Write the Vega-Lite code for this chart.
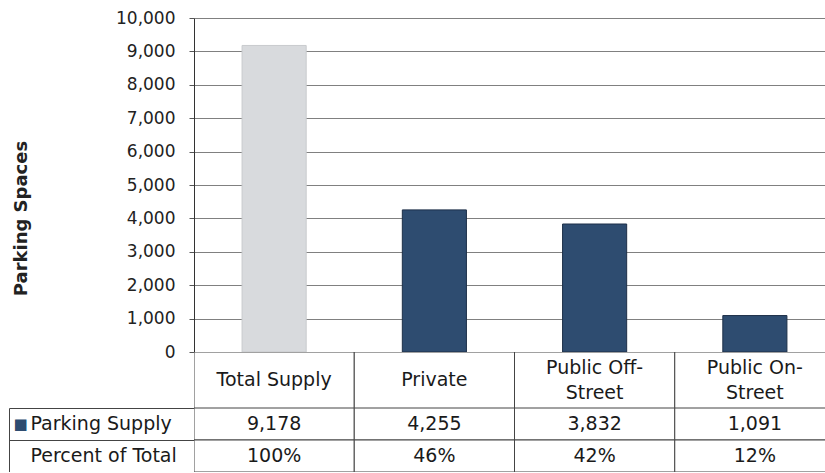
{
  "$schema": "https://vega.github.io/schema/vega-lite/v6.json",
  "padding": {"left": 8, "top": 9, "right": 0, "bottom": 0},
  "autosize": {"type": "pad"},
  "background": "white",
  "config": {
    "view": {"stroke": null},
    "font": "DejaVu Sans",
    "axis": {"labelFont": "DejaVu Sans", "titleFont": "DejaVu Sans", "labelColor": "#222222", "titleColor": "#222222"}
  },
  "datasets": {
    "parking": [
      {"category": "Total Supply", "spaces": 9178, "percent": 1.0, "kind": "total"},
      {"category": "Private", "spaces": 4255, "percent": 0.46, "kind": "part"},
      {"category": "Public Off-Street", "spaces": 3832, "percent": 0.42, "kind": "part"},
      {"category": "Public On-Street", "spaces": 1091, "percent": 0.12, "kind": "part"}
    ]
  },
  "spacing": 0,
  "bounds": "flush",
  "vconcat": [
    {
      "width": 631,
      "height": 334,
      "data": {"name": "parking"},
      "mark": {"type": "bar", "strokeWidth": 1},
      "encoding": {
        "x": {
          "field": "category", "type": "nominal",
          "sort": ["Total Supply", "Private", "Public Off-Street", "Public On-Street"],
          "scale": {"paddingInner": 0.6, "paddingOuter": 0.3, "rangeMax": 641},
          "axis": null
        },
        "y": {
          "field": "spaces", "type": "quantitative",
          "scale": {"domain": [0, 10000], "nice": false},
          "axis": {
            "values": [0, 1000, 2000, 3000, 4000, 5000, 6000, 7000, 8000, 9000, 10000],
            "format": ",d",
            "title": "Parking Spaces",
            "titleFontSize": 18,
            "titleFontWeight": "bold",
            "titleX": -173,
            "titleY": 200,
            "titleBaseline": "middle",
            "grid": true,
            "gridColor": "#808080",
            "gridOpacity": 1,
            "domainColor": "#333333",
            "tickColor": "#555555",
            "tickSize": 5,
            "labelPadding": 14,
            "labelFontSize": 17
          }
        },
        "color": {
          "field": "kind", "type": "nominal",
          "scale": {"domain": ["total", "part"], "range": ["#d8dadd", "#2e4c70"]},
          "legend": null
        },
        "stroke": {
          "field": "kind", "type": "nominal",
          "scale": {"domain": ["total", "part"], "range": ["#c8cacd", "#1d2f48"]},
          "legend": null
        }
      }
    },
    {
      "width": 631,
      "height": 56,
      "data": {"name": "parking"},
      "encoding": {
        "x": {
          "field": "category", "type": "nominal",
          "sort": ["Total Supply", "Private", "Public Off-Street", "Public On-Street"],
          "scale": {"paddingInner": 0, "paddingOuter": 0, "rangeMax": 641},
          "axis": null
        }
      },
      "layer": [
        {"mark": {"type": "rect", "fill": "white", "stroke": "#444444", "strokeWidth": 1, "clip": true}},
        {
          "transform": [{"filter": "indexof(datum.category, '-') < 0"}],
          "mark": {"type": "text", "fontSize": 19, "color": "#1a1a1a", "baseline": "middle", "font": "DejaVu Sans"},
          "encoding": {"text": {"field": "category"}}
        },
        {
          "transform": [
            {"filter": "indexof(datum.category, '-') >= 0"},
            {"calculate": "replace(datum.category, '-', '-\\n')", "as": "label"}
          ],
          "mark": {"type": "text", "lineBreak": "\n", "fontSize": 19, "lineHeight": 25, "dy": -12.5, "color": "#1a1a1a", "baseline": "middle", "font": "DejaVu Sans"},
          "encoding": {"text": {"field": "label"}}
        }
      ]
    },
    {
      "width": 631,
      "height": 64,
      "data": {"name": "parking"},
      "transform": [
        {"fold": ["spaces", "percent"], "as": ["key", "value"]},
        {"calculate": "datum.key === 'spaces' ? 'Parking Supply' : 'Percent of Total'", "as": "rowLabel"},
        {"calculate": "datum.key === 'spaces' ? format(datum.value, ',') : format(datum.value, '.0%')", "as": "txt"}
      ],
      "encoding": {
        "x": {
          "field": "category", "type": "nominal",
          "sort": ["Total Supply", "Private", "Public Off-Street", "Public On-Street"],
          "scale": {"paddingInner": 0, "paddingOuter": 0, "rangeMax": 641},
          "axis": null
        }
      },
      "layer": [
        {
          "mark": {"type": "rect", "fill": "white", "stroke": "#444444", "strokeWidth": 1, "clip": true},
          "encoding": {
            "y": {
              "field": "rowLabel", "type": "nominal",
              "sort": ["Parking Supply", "Percent of Total"],
              "scale": {"paddingInner": 0, "paddingOuter": 0},
              "axis": {
                "orient": "left", "title": null, "domain": false, "ticks": false, "tickSize": 0,
                "labelAlign": "left", "labelPadding": 164, "labelFontSize": 19, "labelLimit": 400,
                "labelColor": "#1a1a1a"
              }
            }
          }
        },
        {
          "mark": {"type": "text", "fontSize": 19, "color": "#1a1a1a", "baseline": "middle", "font": "DejaVu Sans"},
          "encoding": {
            "y": {
              "field": "rowLabel", "type": "nominal",
              "sort": ["Parking Supply", "Percent of Total"],
              "scale": {"paddingInner": 0, "paddingOuter": 0},
              "axis": {
                "orient": "left", "title": null, "domain": false, "ticks": false, "tickSize": 0,
                "labelAlign": "left", "labelPadding": 181, "labelFontSize": 15,
                "labelColor": "#2e4c70",
                "labelExpr": "datum.value === 'Parking Supply' ? '■' : ''"
              }
            },
            "text": {"field": "txt"}
          }
        },
        {
          "mark": {"type": "text", "opacity": 0},
          "encoding": {
            "y": {
              "field": "rowLabel", "type": "nominal",
              "sort": ["Parking Supply", "Percent of Total"],
              "scale": {"paddingInner": 0, "paddingOuter": 0},
              "axis": {
                "orient": "left", "title": null, "domain": false, "labels": false,
                "ticks": true, "tickSize": 185, "tickColor": "#444444", "bandPosition": 0
              }
            },
            "text": {"field": "txt"}
          }
        },
        {
          "mark": {"type": "text", "opacity": 0},
          "encoding": {
            "y": {
              "field": "rowLabel", "type": "nominal",
              "sort": ["Parking Supply", "Percent of Total"],
              "scale": {"paddingInner": 0, "paddingOuter": 0},
              "axis": {
                "orient": "left", "title": null, "domain": true, "domainColor": "#444444",
                "labels": false, "ticks": false, "offset": 185
              }
            },
            "text": {"field": "txt"}
          }
        }
      ],
      "resolve": {"axis": {"y": "independent"}}
    }
  ]
}
